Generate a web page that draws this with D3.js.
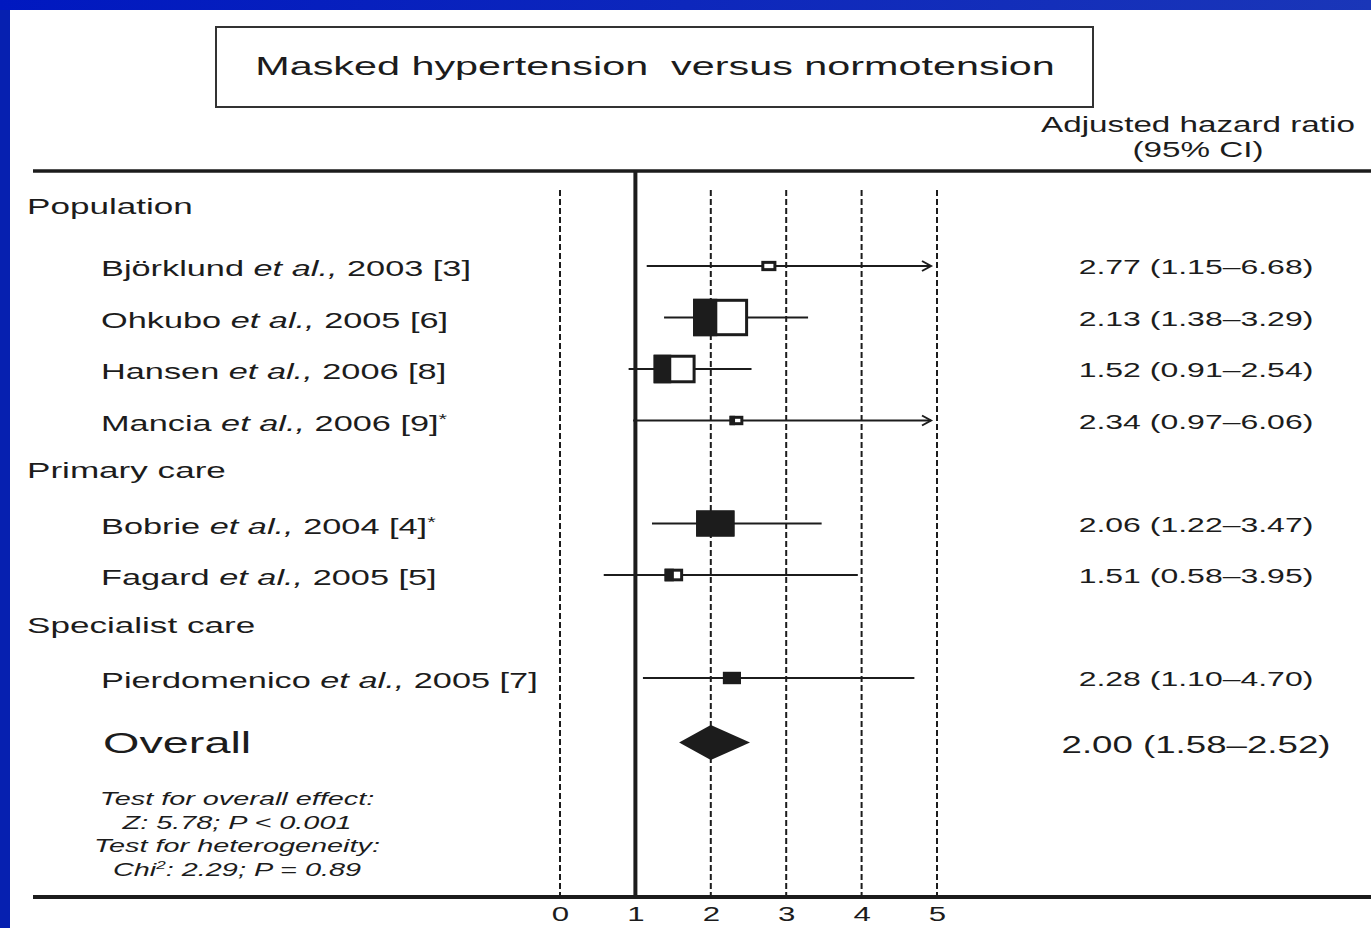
<!DOCTYPE html>
<html>
<head>
<meta charset="utf-8">
<script src="https://cdn.jsdelivr.net/npm/d3@7"></script>
<style>
body { margin: 0; background: #fff; overflow: hidden; }
text { font-family: "Liberation Sans", Arial, sans-serif; fill: #1c1c1c; }
</style>
</head>
<body>
<script>
// values
var studies = ["Björklund", "Ohkubo", "Hansen", "Mancia", "Bobrie", "Fagard", "Pierdomenico"]
var years = [2003, 2005, 2006, 2006, 2004, 2005, 2005]
var refs = ["[3]", "[6]", "[8]", "[9]", "[4]", "[5]", "[7]"]
var starred = [false, false, false, true, true, false, false]
var settings = ["Population", "Population", "Population", "Population", "Primary care", "Primary care", "Specialist care"]
var hr = [2.77, 2.13, 1.52, 2.34, 2.06, 1.51, 2.28]
var lower = [1.15, 1.38, 0.91, 0.97, 1.22, 0.58, 1.10]
var upper = [6.68, 3.29, 2.54, 6.06, 3.47, 3.95, 4.70]
var weights = [3.1, 41.2, 24.0, 2.6, 20.0, 4.7, 4.4]
var overall = { hr: 2.00, lower: 1.58, upper: 2.52 }
var ticks = [0, 1, 2, 3, 4, 5]
var testLines = ["Test for overall effect:", "Z: 5.78; P < 0.001", "Test for heterogeneity:", "Chi|2|: 2.29; P = 0.89"]

var W = 1371, H = 928
var sx = 1.56  // the original figure is stretched sideways
var ink = "#1c1c1c"

var svg = d3.select("body").append("svg").attr("width", W).attr("height", H)

// blue slide frame
var grad = svg.append("defs").append("linearGradient").attr("id", "topband")
grad.append("stop").attr("offset", "0%").attr("stop-color", "#0018c0")
grad.append("stop").attr("offset", "100%").attr("stop-color", "#1a36b8")
svg.append("rect").attr("width", W).attr("height", H).attr("fill", "#0620b0")
svg.append("rect").attr("width", W).attr("height", 10).attr("fill", "url(#topband)")
svg.append("rect").attr("x", 10).attr("y", 10).attr("width", W - 10).attr("height", H - 10).attr("fill", "#fff")

function label(x, y, size, anchor) {
    return svg.append("text")
        .attr("transform", "translate(" + x + "," + y + ") scale(" + sx + ",1)")
        .attr("font-size", size)
        .attr("text-anchor", anchor || "start")
}

// title box
svg.append("rect").attr("x", 216).attr("y", 27).attr("width", 877).attr("height", 80)
    .attr("fill", "none").attr("stroke", "#333").attr("stroke-width", 2)
label(655, 75, 26.5, "middle").text("Masked hypertension  versus normotension").attr("xml:space", "preserve")

label(1198, 132, 21.3, "middle").text("Adjusted hazard ratio")
label(1198, 157, 21.3, "middle").text("(95% CI)")

// scales
var x = d3.scaleLinear().domain([0, 5]).range([560, 937])
var y = d3.scaleLinear().domain([1, 9]).range([266, 678])
var boxSize = d3.scaleSqrt().domain([0, d3.max(weights)]).range([0, 55])

// slots: a header slot whenever the setting changes
var slot = -1, slots = [], headers = []
settings.forEach(function(s, i) {
    if (i == 0 || s != settings[i - 1]) {
        slot = slot + 1
        headers.push({ name: s, slot: slot })
    }
    slot = slot + 1
    slots.push(slot)
})
var overallSlot = slot + 1.25

// frame lines
svg.append("line").attr("x1", 33).attr("x2", W).attr("y1", 171).attr("y2", 171)
    .attr("stroke", ink).attr("stroke-width", 3.5)

svg.selectAll(".ref").data(ticks).enter().append("line").classed("ref", true)
    .attr("x1", d => x(d)).attr("x2", d => x(d))
    .attr("y1", d => d == 1 ? 171 : 190).attr("y2", 897)
    .attr("stroke", ink)
    .attr("stroke-width", d => d == 1 ? 4 : 2)
    .attr("stroke-dasharray", d => d == 1 ? null : "6,3")

svg.append("line").attr("x1", 33).attr("x2", W).attr("y1", 897).attr("y2", 897)
    .attr("stroke", ink).attr("stroke-width", 4)

var axis = svg.append("g").attr("transform", "translate(0,897)")
    .call(d3.axisBottom(x).tickValues(ticks).tickSize(0).tickPadding(10).tickFormat(d3.format("d")))
axis.select(".domain").remove()
axis.attr("font-size", 20).attr("font-family", null)
axis.selectAll("text").attr("fill", ink).attr("transform", "scale(" + sx + ",1)")

// group headers (first one sits a little higher above its rows)
headers.forEach(function(h, i) {
    label(27, y(h.slot - (i == 0 ? 0.12 : 0)) + 6, 22.5).text(h.name)
})

// study labels
studies.forEach(function(s, i) {
    var t = label(101, y(slots[i]) + 10, 22)
    t.append("tspan").text(s + " ")
    t.append("tspan").attr("font-style", "italic").text("et al.,")
    t.append("tspan").text(" " + years[i] + " " + refs[i])
    if (starred[i]) t.append("tspan").attr("font-size", 14).attr("dy", -7).text("*")
    label(1196, y(slots[i]) + 8, 20.5, "middle")
        .text(hr[i].toFixed(2) + " (" + lower[i].toFixed(2) + "–" + upper[i].toFixed(2) + ")")
})

// confidence intervals
var xMax = x(5) - 6
studies.forEach(function(s, i) {
    var yc = y(slots[i])
    var x2 = Math.min(x(upper[i]), xMax)
    svg.append("line").attr("x1", x(lower[i])).attr("x2", x2).attr("y1", yc).attr("y2", yc)
        .attr("stroke", ink).attr("stroke-width", 2)
    if (upper[i] > 5) {
        svg.append("path").attr("d", "M" + (x2 - 9) + "," + (yc - 5) + "L" + x2 + "," + yc + "L" + (x2 - 9) + "," + (yc + 5))
            .attr("fill", "none").attr("stroke", ink).attr("stroke-width", 2)
    }
})

// boxes (the scan shows them only partly filled)
var filled = [0, 0.44, 0.42, 0.4, 1, 0.5, 1]
studies.forEach(function(s, i) {
    var w = boxSize(weights[i]), h = w * 0.68
    var bx = x(hr[i]) - w / 2, by = y(slots[i]) - h / 2
    svg.append("rect").attr("x", bx + 1.5).attr("y", by + 1.5).attr("width", w - 3).attr("height", h - 3)
        .attr("fill", "#fff").attr("stroke", ink).attr("stroke-width", 3)
    if (filled[i] > 0) {
        svg.append("rect").attr("x", bx).attr("y", by).attr("width", w * filled[i]).attr("height", h)
            .attr("fill", ink)
    }
})

// overall diamond
var oy = y(overallSlot)
svg.append("path")
    .attr("d", "M" + x(overall.lower) + "," + oy + "L" + x(overall.hr) + "," + (oy - 17.5) +
        "L" + x(overall.upper) + "," + oy + "L" + x(overall.hr) + "," + (oy + 17.5) + "Z")
    .attr("fill", ink)
label(103, oy + 11, 30).text("Overall")
label(1196, oy + 11, 23.5, "middle")
    .text(overall.hr.toFixed(2) + " (" + overall.lower.toFixed(2) + "–" + overall.upper.toFixed(2) + ")")

// test statistics
testLines.forEach(function(line, i) {
    var t = label(237, 805 + i * 23.7, 18.5, "middle").attr("font-style", "italic")
    var parts = line.split("|")
    t.append("tspan").text(parts[0])
    if (parts.length > 1) {
        t.append("tspan").attr("font-size", 11).attr("dy", -7).text(parts[1])
        t.append("tspan").attr("dy", 7).text(parts[2])
    }
})
</script>
</body>
</html>
